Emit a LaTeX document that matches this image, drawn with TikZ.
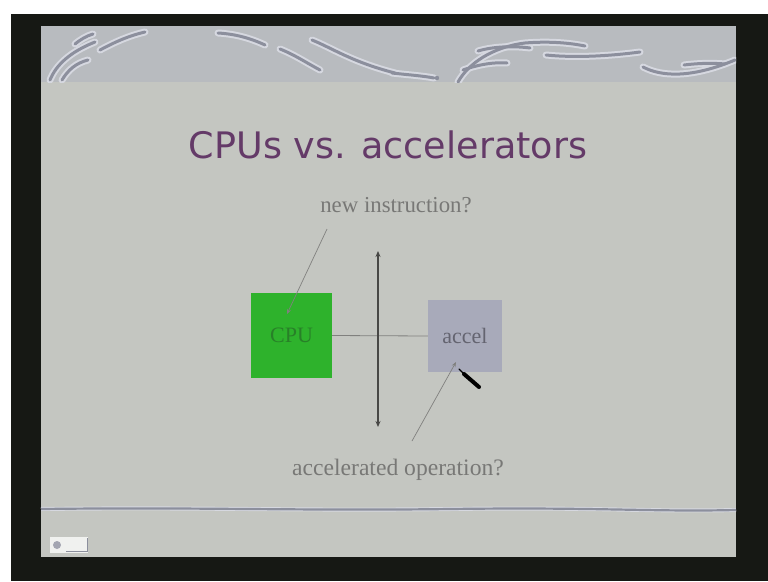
\documentclass[tikz,border=0pt]{standalone}
\usepackage{fontspec}
\setmainfont{Liberation Serif}
\newfontfamily\titlefont{DejaVu Sans}
\usetikzlibrary{arrows.meta}

\definecolor{framedark}{RGB}{22,24,20}
\definecolor{slidebg}{RGB}{196,198,193}
\definecolor{bandbg}{RGB}{184,187,191}
\definecolor{swirldark}{RGB}{140,143,157}
\definecolor{swirllight}{RGB}{214,216,224}
\definecolor{titlepurple}{RGB}{100,58,104}
\definecolor{labelgrey}{RGB}{120,120,118}
\definecolor{cpugreen}{RGB}{46,178,44}
\definecolor{cputext}{RGB}{40,128,40}
\definecolor{accelfill}{RGB}{168,170,186}
\definecolor{acceltext}{RGB}{100,100,112}
\definecolor{leadergrey}{RGB}{128,128,126}
\definecolor{arrowgrey}{RGB}{72,72,70}

\tikzset{
  swirlunder/.style={draw=swirllight, line width=7pt, line cap=round},
  swirlover/.style={draw=swirldark, line width=3pt, line cap=round},
  unitbox/.style={draw=none, inner sep=0pt, font=\fontsize{22}{22}\selectfont},
  label/.style={text=labelgrey, inner sep=0pt, anchor=base},
  leader/.style={draw=leadergrey, line width=0.7pt, -{Stealth[length=5pt,width=4pt]}},
  link/.style={draw=leadergrey, line width=0.8pt},
  bidir/.style={draw=arrowgrey, line width=1.8pt, {Stealth[length=6pt,width=5pt]}-{Stealth[length=6pt,width=5pt]}}
}

\begin{document}
\begin{tikzpicture}[x=1pt,y=-1pt]
  \useasboundingbox (0,0) rectangle (768,581);
  % white margin and dark frame around the slide
  \fill[white] (0,0) rectangle (768,581);
  \fill[framedark] (11,14) rectangle (768,581);
  % slide surface and top band
  \fill[slidebg] (41,26) rectangle (736,557);
  \fill[bandbg] (41,26) rectangle (736,82);

  % decorative swirls across the top band
  \begin{scope}
    \clip (41,26) rectangle (736,82);
    \foreach \st in {swirlunder, swirlover}{
      \draw[\st] (50,80) .. controls (56,65) and (70,52) .. (95,42);
      \draw[\st] (62,80) .. controls (68,70) and (76,63) .. (88,60);
      \draw[\st] (75,44) .. controls (80,40) and (86,36) .. (93,34);
      \draw[\st] (100,50) .. controls (115,42) and (128,36) .. (145,32);
      \draw[\st] (218,33) .. controls (235,34) and (250,38) .. (265,45);
      \draw[\st] (280,49) .. controls (295,55) and (305,62) .. (320,70);
      \draw[\st] (312,40) .. controls (332,48) and (352,62) .. (395,73);
      \draw[\st] (392,73) .. controls (410,75) and (424,76) .. (434,78);
      \draw[\st] (458,82) .. controls (468,64) and (492,47) .. (525,43)
                         .. controls (550,41) and (570,43) .. (585,46);
      \draw[\st] (478,51) .. controls (495,46) and (515,46) .. (530,48);
      \draw[\st] (463,70) .. controls (480,64) and (495,62) .. (507,63);
      \draw[\st] (546,55) .. controls (575,58) and (610,56) .. (640,52);
      \draw[\st] (643,67) .. controls (662,77) and (692,78) .. (735,60);
      \draw[\st] (684,65) .. controls (700,63) and (714,63) .. (725,64);
    }
  \end{scope}
  \fill[swirldark] (437,78) circle (2.2pt);

  % thin rule above the footer
  \draw[swirllight, line width=4pt]
    (41,509) .. controls (200,507) and (300,511) .. (450,509)
             .. controls (600,507) and (650,512) .. (736,510);
  \draw[swirldark, line width=2.2pt]
    (41,509) .. controls (200,507) and (300,511) .. (450,509)
             .. controls (600,507) and (650,512) .. (736,510);

  % slide navigation icon
  \fill[white!75!slidebg] (50,537) rectangle (88,553);
  \fill[swirldark!80!white] (57,545) circle (4pt);
  \draw[swirldark, line width=1pt] (66,551) -- (87,551) -- (87,538);

  % title
  \node[anchor=base, inner sep=0pt, text=titlepurple,
        font=\titlefont\fontsize{36.5}{36.5}\selectfont] (title) at (388,158)
        {CPUs vs. accelerators};

  % the two units
  \node[unitbox, fill=cpugreen, text=cputext, minimum width=81pt, minimum height=85pt]
        (cpu) at (291.5,335.5) {CPU};
  \node[unitbox, fill=accelfill, text=acceltext, minimum width=74pt, minimum height=72pt]
        (accel) at (465,336) {accel};
  \draw[link] (cpu.east) -- (accel.west);

  % boundary between them
  \coordinate (vtop) at (378,251);
  \coordinate (vbot) at (378,427);
  \draw[bidir] (vtop) -- (vbot);

  % callouts
  \node[label, font=\fontsize{22.8}{22.8}\selectfont] (newi) at (396,212) {new instruction?};
  \node[label, font=\fontsize{23.6}{23.6}\selectfont] (accop) at (398,475) {accelerated operation?};
  \coordinate (newifoot) at (327,229);
  \coordinate (cputip) at (287,314);
  \coordinate (accopfoot) at (412,441);
  \coordinate (acceltip) at (456,362);
  \draw[leader] (newifoot) -- (cputip);
  \draw[leader] (accopfoot) -- (acceltip);

  % pointer resting on the accelerator box
  \coordinate (ptip) at (459,369);
  \coordinate (pmid) at (464,374);
  \coordinate (pend) at (479,387);
  \draw[black, line width=1.2pt, line cap=round] (ptip) -- (pmid);
  \draw[black, line width=4pt, line cap=round] (pmid) -- (pend);
\end{tikzpicture}
\end{document}
